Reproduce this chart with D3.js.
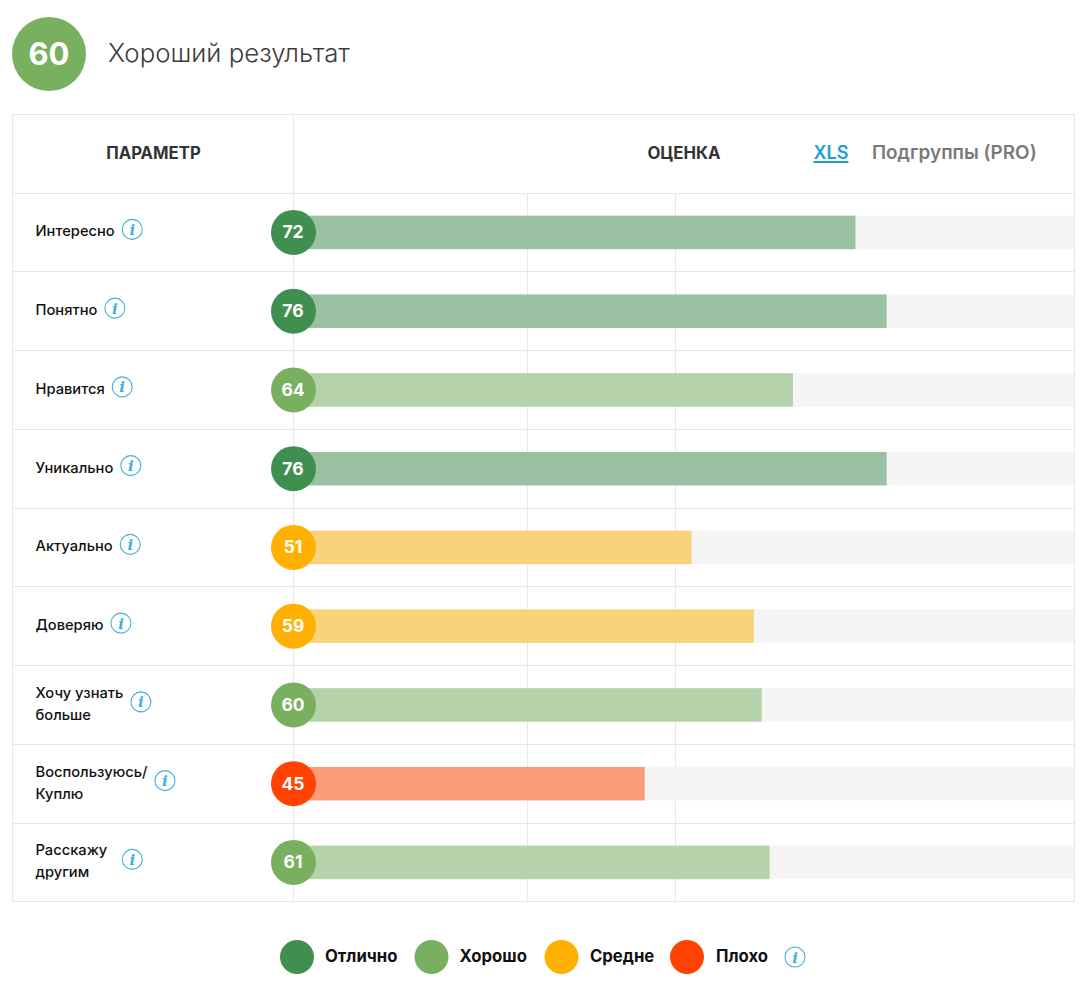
<!DOCTYPE html>
<html><head><meta charset="utf-8">
<script src="https://cdn.jsdelivr.net/npm/d3@7"></script>
<style>html,body{margin:0;padding:0;background:#fff}svg{display:block}text{font-family:"Inter",sans-serif}</style>
</head><body><svg id="c" width="1089" height="996"></svg>
<script>
const overallScore = 60;
const overallLabel = "Хороший результат";
const categories = [["Интересно"],["Понятно"],["Нравится"],["Уникально"],["Актуально"],["Доверяю"],["Хочу узнать","больше"],["Воспользуюсь/","Куплю"],["Расскажу","другим"]];
const scores = [72,76,64,76,51,59,60,45,61];
const levels = ["Отлично","Хорошо","Средне","Плохо"];
const levelColors = ["#3f9050","#78b060","#ffb000","#ff4200"];
const scoreLevels = [0,0,1,0,2,2,1,3,1];
const gridValues = [30,49];
const headers = ["ПАРАМЕТР","ОЦЕНКА","XLS","Подгруппы (PRO)"];

const svg = d3.select("#c");
const x = d3.scaleLinear().domain([0,100]).range([293.4,1074]);
const y = d3.scaleBand().domain(d3.range(scores.length)).range([192.8,901.55]);
const color = d3.scaleOrdinal().domain(d3.range(4)).range(levelColors);
const line="#e8e8e8", blue="#3fb0da";

function info(g,cx,cy){
  const n=g.append("g").attr("transform",`translate(${cx},${cy})`);
  n.append("circle").attr("r",10).attr("fill","#fff").attr("stroke",blue).attr("stroke-width",1.1);
  n.append("text").attr("y",5.5).attr("text-anchor","middle").attr("fill",blue)
   .style("font-family","'DejaVu Serif',serif").style("font-style","italic").style("font-weight",700).style("font-size","15px").text("i");
}

// header
svg.append("circle").attr("cx",49).attr("cy",54).attr("r",37).attr("fill",levelColors[1]);
svg.append("text").attr("x",49).attr("y",65).attr("text-anchor","middle").attr("fill","#fff")
  .style("font-size","31px").style("font-weight",700).text(overallScore);
svg.append("text").attr("x",108).attr("y",62).attr("fill","#3d3d3d").style("font-size","25.8px").style("font-weight",300).text(overallLabel);

// table frame
svg.append("rect").attr("x",12.5).attr("y",114.5).attr("width",1062).attr("height",787).attr("fill","none").attr("stroke",line);
svg.append("line").attr("x1",293.5).attr("x2",293.5).attr("y1",114.5).attr("y2",901.5).attr("stroke",line);
svg.selectAll(".rl").data(d3.range(scores.length)).join("line").attr("x1",12.5).attr("x2",1074.5)
  .attr("y1",d=>Math.round(y(d)-.1)+.5).attr("y2",d=>Math.round(y(d)-.1)+.5).attr("stroke",line);
svg.selectAll(".gl").data(gridValues).join("line").attr("x1",d=>Math.floor(x(d))+.5).attr("x2",d=>Math.floor(x(d))+.5)
  .attr("y1",193).attr("y2",901.5).attr("stroke",line);

const h=svg.append("g").style("font-weight",700);
h.append("text").attr("x",153.5).attr("y",158.5).attr("text-anchor","middle").attr("fill","#333").style("font-size","16.7px").text(headers[0]);
h.append("text").attr("x",684).attr("y",158.5).attr("text-anchor","middle").attr("fill","#333").style("font-size","16.8px").text(headers[1]);
const xls=h.append("text").attr("x",813.5).attr("y",159).attr("fill","#1a9fd0").style("font-size","18px").style("font-weight",600).text(headers[2]);
h.append("rect").attr("x",813.5).attr("y",161).attr("height",2).attr("width",xls.node().getComputedTextLength()).attr("fill","#1a9fd0");
h.append("text").attr("x",872).attr("y",159).attr("fill","#7a7a7a").style("font-size","18.9px").style("font-weight",600).text(headers[3]);

// rows
const rows=svg.selectAll(".row").data(scores).join("g").attr("class","row");
const cy=i=>y(i)+y.bandwidth()/2+.2;
rows.append("rect").attr("x",x(0)).attr("width",x(100)-x(0)).attr("y",(d,i)=>cy(i)-16.7).attr("height",33.5).attr("fill","#f5f5f5");
rows.append("rect").attr("x",x(0)).attr("width",d=>x(d)-x(0)).attr("y",(d,i)=>cy(i)-16.7).attr("height",33.5)
  .attr("fill",(d,i)=>color(scoreLevels[i])).attr("fill-opacity",.5);
rows.append("circle").attr("cx",293.5).attr("cy",(d,i)=>cy(i)).attr("r",22.5).attr("fill",(d,i)=>color(scoreLevels[i]));
rows.append("text").attr("x",293).attr("y",(d,i)=>cy(i)+6).attr("text-anchor","middle").attr("fill","#fff")
  .style("font-size","17.5px").style("font-weight",700).text(d=>d);

rows.each(function(d,i){
  const g=d3.select(this), ls=categories[i], two=ls.length>1;
  let w=0;
  ls.forEach((t,k)=>{
    const yy=two? cy(i)-7+k*22 : cy(i)+4;
    const n=g.append("text").attr("x",35.5).attr("y",yy).attr("fill","#111").style("font-size","14.7px").style("font-weight",500).text(t);
    w=Math.max(w,n.node().getComputedTextLength());
  });
  info(g,35.5+w+(i===8?25:17.5), cy(i)-3);
});

// legend
const lx=[297,431.5,561.5,687], tx=[325,459.5,590,716];
const lg=svg.selectAll(".lg").data(levels).join("g").attr("class","lg");
lg.append("circle").attr("cx",(d,i)=>lx[i]).attr("cy",957).attr("r",17).attr("fill",(d,i)=>levelColors[i]);
lg.append("text").attr("x",(d,i)=>tx[i]).attr("y",962).attr("fill","#111").style("font-size","16.7px").style("font-weight",700).text(d=>d);
info(svg,795,957);
</script></body></html>
